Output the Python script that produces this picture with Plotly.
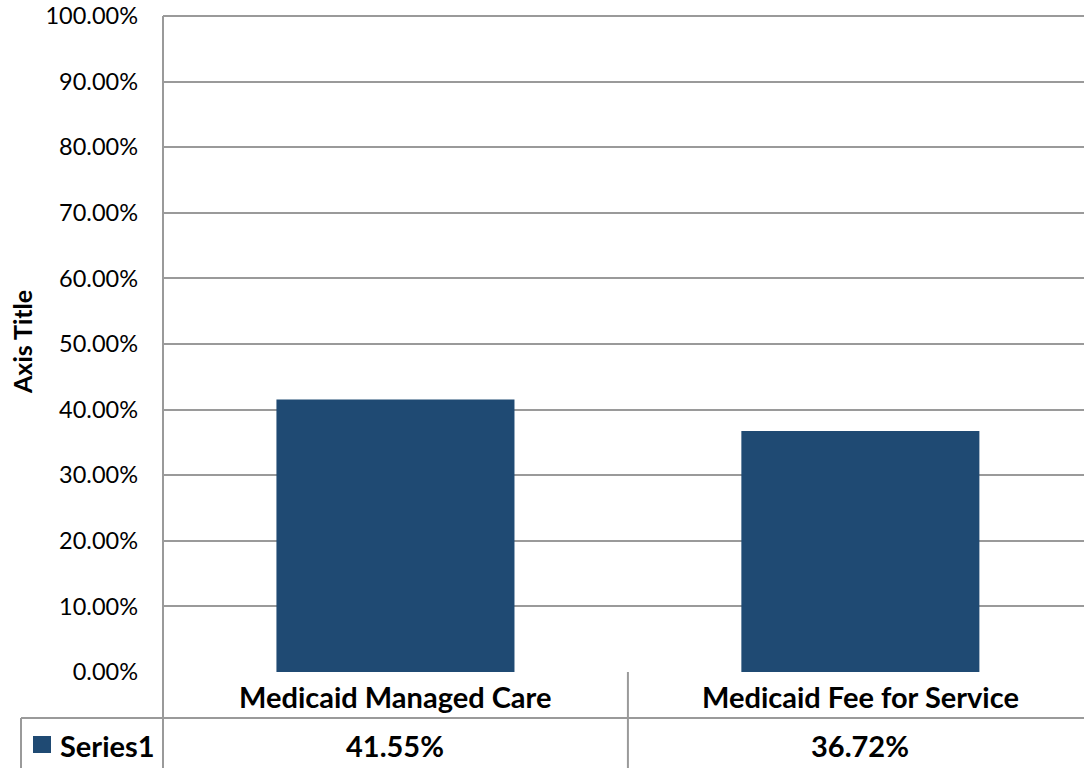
import plotly.graph_objects as go

categories = ["Medicaid Managed Care", "Medicaid Fee for Service"]
values = [0.4155, 0.3672]
series_name = "Series1"
y_ticks = [i / 10 for i in range(11)]

FONT = "Lato"
BAR = "#1F4A73"
GRID = "#9A9A9A"

fig = go.Figure()
fig.add_trace(go.Bar(
    x=categories, y=values, name=series_name,
    marker=dict(color=BAR, line=dict(width=0)),
    width=0.512, showlegend=False,
))

# plot area geometry (px)
L, T, B = 163, 16, 96
W, H = 1084 - L, 768 - T - B

def py(p):  # pixel y -> paper
    return (768 - B - p) / H

def px(p):
    return (p - L) / W

shapes = []
line = dict(color=GRID, width=2)
# top border (100% gridline)
shapes.append(dict(type="line", xref="paper", yref="paper", x0=0, x1=1, y0=1, y1=1, line=line))
# data table lines
shapes.append(dict(type="line", xref="paper", yref="paper", x0=px(21), x1=1, y0=py(718), y1=py(718), line=line))
shapes.append(dict(type="line", xref="paper", yref="paper", x0=px(21), x1=px(21), y0=py(718), y1=py(770), line=line))
shapes.append(dict(type="line", xref="paper", yref="paper", x0=0, x1=0, y0=1, y1=py(770), line=line))
shapes.append(dict(type="line", xref="x", yref="paper", x0=0.5, x1=0.5, y0=0, y1=py(770), line=line))
# legend key
shapes.append(dict(type="rect", xref="paper", yref="paper", x0=px(33), x1=px(51), y0=py(753), y1=py(736),
                   fillcolor=BAR, line=dict(width=0)))

annotations = []
tfont = dict(family=FONT, size=29, color="black")
for c, v in zip(categories, values):
    annotations.append(dict(x=c, xref="x", y=py(696), yref="paper", text="<b>%s</b>" % c,
                            showarrow=False, font=tfont, xanchor="center", yanchor="middle"))
    annotations.append(dict(x=c, xref="x", y=py(745), yref="paper", text="<b>%.2f%%</b>" % (v * 100),
                            showarrow=False, font=tfont, xanchor="center", yanchor="middle"))
annotations.append(dict(x=px(58), xref="paper", y=py(745), yref="paper", text="<b>%s</b>" % series_name,
                        showarrow=False, font=tfont, xanchor="left", yanchor="middle"))
annotations.append(dict(x=px(22), xref="paper", y=py(342), yref="paper", text="<b>Axis Title</b>",
                        textangle=-90, showarrow=False, font=dict(family=FONT, size=25, color="black"),
                        xanchor="center", yanchor="middle"))

fig.update_layout(
    width=1084, height=768,
    margin=dict(l=L, r=0, t=T, b=B),
    paper_bgcolor="white", plot_bgcolor="white",
    showlegend=False,
    xaxis=dict(range=[-0.5, 1.481], showticklabels=False, showgrid=False, zeroline=False,
               showline=False, fixedrange=True),
    yaxis=dict(range=[0, 1], tickvals=y_ticks, tickformat=".2%", showgrid=True, gridcolor=GRID,
               gridwidth=2, zeroline=False, showline=False, ticks="", ticklabelstandoff=24,
               tickfont=dict(family=FONT, size=23.5, color="black")),
    shapes=shapes, annotations=annotations,
)

fig.write_html("out.html", config={"displayModeBar": False},
               post_script="document.body.style.margin='0px';")
